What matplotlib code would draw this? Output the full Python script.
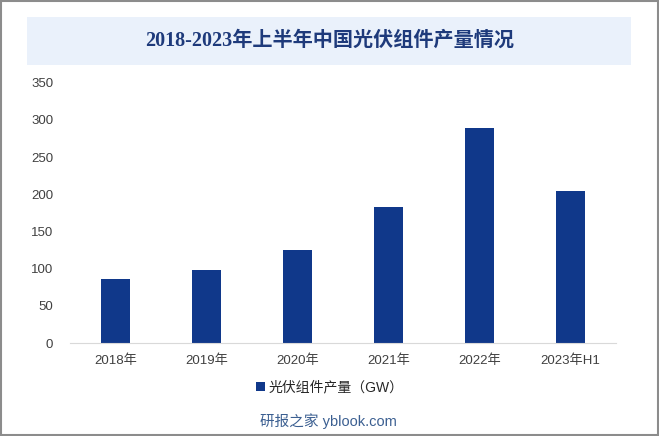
import matplotlib.pyplot as plt
from matplotlib.patches import Rectangle

plt.rcParams['font.family'] = ['Liberation Sans', 'Noto Sans CJK SC', 'DejaVu Sans']

# ==========================
# 数据
# ==========================
years = ["2018年", "2019年", "2020年", "2021年", "2022年", "2023年H1"]
output_gw = [85.7, 98.6, 124.6, 182.8, 288.7, 204.4]
y_ticks = [0, 50, 100, 150, 200, 250, 300, 350]

title = "2018-2023年上半年中国光伏组件产量情况"
legend_label = "光伏组件产量（GW）"
source = "研报之家 yblook.com"

bar_color = "#10388A"

# ==========================
# plot
# ==========================
fig = plt.figure(figsize=(6.59, 4.36), dpi=100)

# 外框
fig.patches.append(Rectangle((0.001, 0.002), 0.997, 0.996, transform=fig.transFigure,
                             fill=False, edgecolor="#8C8C8C", linewidth=1.5))
# 标题背景
fig.patches.append(Rectangle((27 / 659, 1 - 65 / 436), 604 / 659, 47.5 / 436,
                             transform=fig.transFigure, facecolor="#EAF1FB",
                             edgecolor="none"))
fig.text(0.5, 1 - 41 / 436, title, ha="center", va="center", fontsize=14.5,
         fontweight="bold", color="#1E3A7B",
         family=["Liberation Serif", "Noto Sans CJK SC"])

ax = fig.add_axes([70 / 659, 1 - 343 / 436, 546 / 659, (343 - 82.7) / 436])
x = range(len(years))
ax.bar(x, output_gw, width=0.31, color=bar_color, label=legend_label)

ax.set_xlim(-0.5, len(years) - 0.5)
ax.set_ylim(0, 350)
ax.set_yticks(y_ticks)
ax.set_xticks(list(x))
ax.set_xticklabels(years)

for s in ["top", "right", "left"]:
    ax.spines[s].set_visible(False)
ax.spines["bottom"].set_color("#D9D9D9")
ax.tick_params(axis="both", length=0, labelsize=9.5, colors="#404040")
ax.tick_params(axis="y", pad=12)
ax.tick_params(axis="x", pad=8)

fig.legend(loc="center", bbox_to_anchor=(330 / 659, 1 - 387 / 436), frameon=False,
           fontsize=10, handlelength=0.6, handleheight=0.6, handletextpad=0.3,
           labelcolor="#262626")

fig.text(328 / 659, 1 - 421 / 436, source, ha="center", va="center", fontsize=10.5,
         color="#3B5F91")

plt.savefig("out.png", dpi=100)
plt.close()
